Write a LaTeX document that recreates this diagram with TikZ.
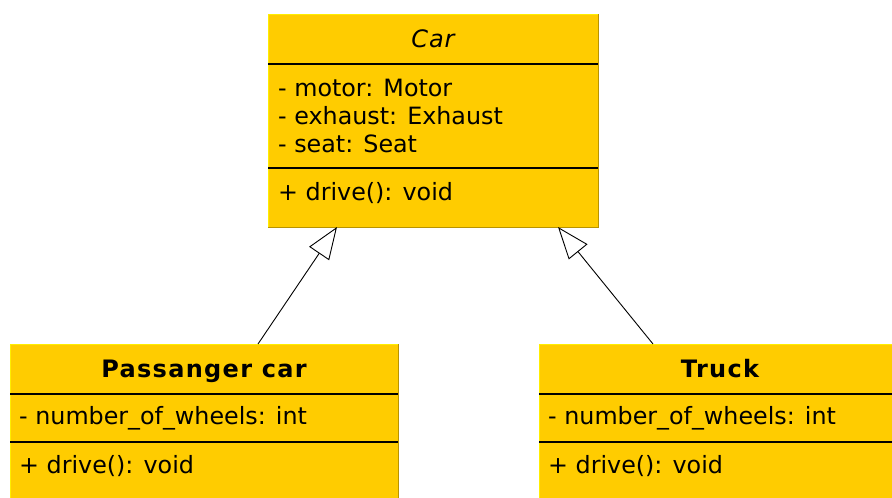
\documentclass[tikz,border=0pt]{standalone}
\usepackage{fontspec}
\setmainfont{DejaVu Sans}
\usetikzlibrary{arrows.meta}
\definecolor{umlfill}{HTML}{FFCC00}
\definecolor{umllight}{HTML}{FFEE00}
\definecolor{umldark}{HTML}{B89300}
\tikzset{
  clsbox/.style={fill=umlfill, draw=none, inner sep=0pt, anchor=north west},
  txt/.style={anchor=base west, inner sep=0pt, font=\fontsize{23.8}{28}\selectfont},
  ttl/.style={anchor=base, inner sep=0pt, font=\fontsize{24}{28}\selectfont\addfontfeatures{LetterSpace=5.5}},
  divider/.style={draw=black, line width=1.3pt},
  inherit/.style={draw=black, line width=0.9pt, -{Triangle[open, length=32pt, width=24pt, fill=white]}},
}
\begin{document}
\begin{tikzpicture}[x=1pt, y=-1pt]
\useasboundingbox (0,0) rectangle (892,498);
\clip (0,0) rectangle (892,498);
% Car
\node[clsbox, minimum width=330pt, minimum height=213pt] (car) at (268,14) {};
\draw[umllight, line width=1pt] (car.south west) -- (car.north west) -- (car.north east);
\draw[umldark, line width=1.2pt] (car.north east) -- (car.south east) -- (car.south west);
\draw[divider] (268,64) -- (598,64);
\draw[divider] (268,168) -- (598,168);
\node[ttl, font=\fontsize{24}{28}\selectfont\itshape\addfontfeatures{LetterSpace=4}] (cart) at (433,47) {Car};
\node[txt] (cara1) at (278,96) {- motor: Motor};
\node[txt] (cara2) at (278,124) {- exhaust: Exhaust};
\node[txt] (cara3) at (278,152) {- seat: Seat};
\node[txt] (carm1) at (278,200) {+ drive(): void};
% Passanger car
\node[clsbox, minimum width=388pt, minimum height=170pt] (pc) at (10,344) {};
\draw[umllight, line width=1pt] (pc.south west) -- (pc.north west) -- (pc.north east);
\draw[umldark, line width=1.2pt] (pc.north east) -- (pc.south east);
\draw[divider] (10,394) -- (398,394);
\draw[divider] (10,442) -- (398,442);
\node[ttl, font=\fontsize{24}{28}\selectfont\bfseries\addfontfeatures{LetterSpace=5.5}] (pct) at (204,377) {Passanger car};
\node[txt] (pca1) at (19,424) {- number\_of\_wheels: int};
\node[txt] (pcm1) at (19,473) {+ drive(): void};
% Truck
\node[clsbox, minimum width=388pt, minimum height=170pt] (tr) at (539,344) {};
\draw[umllight, line width=1pt] (tr.south west) -- (tr.north west) -- (tr.north east);
\draw[divider] (539,394) -- (927,394);
\draw[divider] (539,442) -- (927,442);
\node[ttl, font=\fontsize{24}{28}\selectfont\bfseries\addfontfeatures{LetterSpace=5.5}] (trt) at (720,377) {Truck};
\node[txt] (tra1) at (548,424) {- number\_of\_wheels: int};
\node[txt] (trm1) at (548,473) {+ drive(): void};
% inheritance
\coordinate (pcs) at (258,344);
\coordinate (pce) at (337,227);
\coordinate (trs) at (653,344);
\coordinate (tre) at (558,227);
\draw[inherit] (pcs) -- (pce);
\draw[inherit] (trs) -- (tre);
\end{tikzpicture}
\end{document}
